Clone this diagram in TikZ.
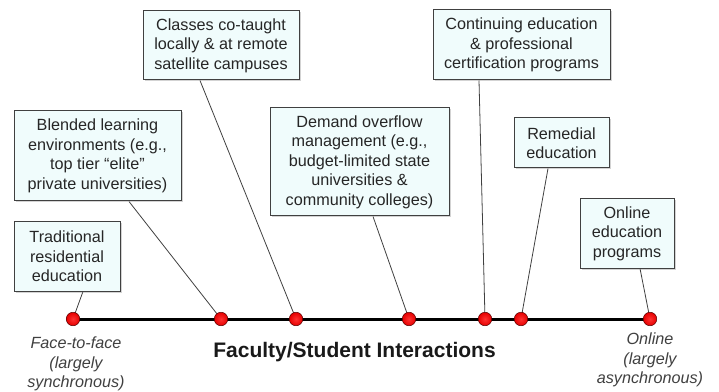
\documentclass[tikz,border=0pt]{standalone}
\usepackage{fontspec}
\setmainfont{Liberation Sans}
\usetikzlibrary{shadows,backgrounds}
\definecolor{boxfill}{HTML}{F0FCFC}
\definecolor{boxline}{HTML}{404040}
\begin{document}
\begin{tikzpicture}[x=1pt, y=1pt,
    info/.style={draw=boxline, fill=boxfill, line width=1pt, align=center,
      font=\fontsize{16.2}{19.5}\selectfont, text=black!85, inner sep=0pt,
      drop shadow={shadow xshift=1.5pt, shadow yshift=-1.5pt, opacity=0.35}},
    dot/.style={circle, inner color=red!80!white, outer color=red!90!black,
      draw=red!35!black, line width=0.5pt, minimum size=13.5pt, inner sep=0pt},
    link/.style={draw=black!75, line width=0.8pt},
    endlabel/.style={align=center, text=black!75, font=\fontsize{16.2}{19.5}\selectfont\itshape}]
  \useasboundingbox (0,0) rectangle (719,391);
  % points along the axis
  \foreach \x [count=\xi] in {73, 221, 296, 409, 485, 521, 650}
    {
      \node[dot] (dot\xi) at (\x,72) {};
    }
  % boxes
  \node[info, minimum width=106pt, minimum height=69pt] (trad) at (67,134.5)
    {Traditional\\residential\\education};
  \node[info, minimum width=167pt, minimum height=90pt] (blend) at (97.5,235)
    {Blended learning\\environments (e.g.,\\top tier ``elite''\\private universities)};
  \node[info, minimum width=156pt, minimum height=69pt] (classes) at (221,345.5)
    {Classes co-taught\\locally \& at remote\\satellite campuses};
  \node[info, minimum width=179pt, minimum height=108pt] (demand) at (359.5,229)
    {Demand overflow\\management (e.g.,\\budget-limited state\\universities \&\\community colleges)};
  \node[info, minimum width=177pt, minimum height=70pt] (contin) at (521.5,346)
    {Continuing education\\\& professional\\certification programs};
  \node[info, minimum width=95pt, minimum height=50pt] (remed) at (561.5,248)
    {Remedial\\education};
  \node[info, minimum width=94pt, minimum height=69pt] (online) at (627,157.5)
    {Online\\education\\programs};
  % axis and connectors
  \begin{scope}[on background layer]
    \draw[line width=3pt] (dot1.center) -- (dot7.center);
    \foreach \b/\d/\s in {trad/1/16, blend/2/31.5, classes/3/-21, demand/4/13.5,
                          contin/5/-42.5, remed/6/-13.5, online/7/13}
      {
        \draw[link] ([xshift=\s pt]\b.south) -- (dot\d.center);
      }
  \end{scope}
  % labels
  \node[endlabel] (ftf) at (76,27) {Face-to-face\\(largely\\synchronous)};
  \node[endlabel] (onl) at (650,31) {Online\\(largely\\asynchronous)};
  \node[font=\fontsize{21}{24}\selectfont\bfseries, text=black!90] (title) at (354.5,39)
    {Faculty/Student Interactions};
\end{tikzpicture}
\end{document}
